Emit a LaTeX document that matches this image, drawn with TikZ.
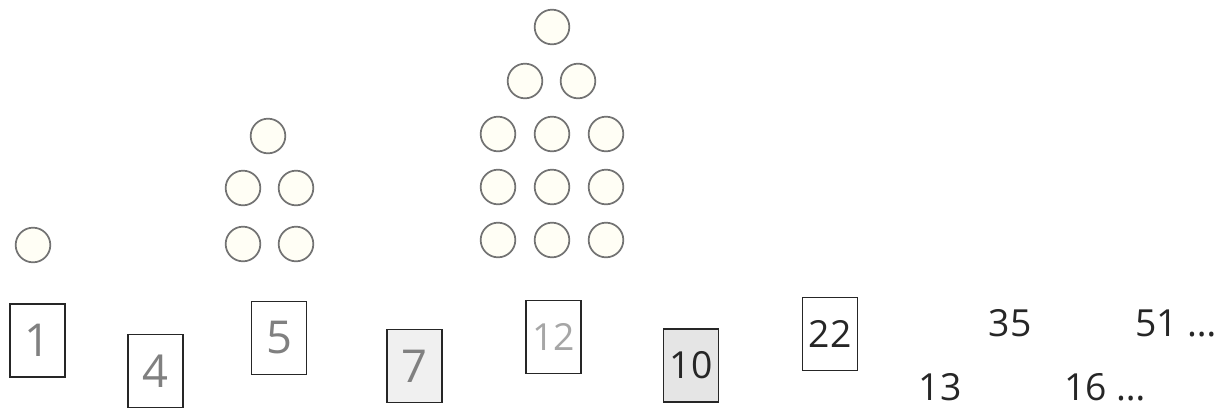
\documentclass[tikz,border=0pt]{standalone}
\usepackage{fontspec}
\setmainfont{Open Sans}
\usepackage{tikz}
\usetikzlibrary{positioning}

\begin{document}
\begin{tikzpicture}[
		x=0.75pt, y=-0.75pt,
		card/.style={draw=black!85, line width=1.1pt, fill=white, minimum width=41pt, minimum height=55pt, inner sep=0pt},
		hand/.style={text=black!50, font=\fontsize{34}{34}\selectfont},
		print/.style={text=black!85, font=\fontsize{28}{28}\selectfont},
		dot/.style={circle, draw=black!55, line width=1.3pt, fill=yellow!4, minimum size=26pt, inner sep=0pt}
		]
		\useasboundingbox (0,0) rectangle (1217,411);
		
		% Dot figures
		\node[dot] (d1) at (33,245) {};
		
		\node[dot] (e1) at (268,136) {};
		\foreach \r/\y in {2/188, 3/244} {
			\node[dot] (e\r a) at (243,\y) {};
			\node[dot] (e\r b) at (296,\y) {};
		}
		
		\node[dot] (f1) at (552,27) {};
		\node[dot] (f2a) at (525,81) {};
		\node[dot] (f2b) at (578,81) {};
		\foreach \r/\y in {3/134, 4/187, 5/240} {
			\node[dot] (f\r a) at (498,\y) {};
			\node[dot] (f\r b) at (552,\y) {};
			\node[dot] (f\r c) at (606,\y) {};
		}
		
		% Number cards
		\node[card, hand] (c1) at (37.5,340.5) {1};
		\node[card, hand] (c4) at (155.5,371) {4};
		\node[card, hand] (c5) at (279,338) {5};
		\node[card, hand, fill=black!6] (c7) at (414.5,366) {7};
		\node[card, hand, font=\fontsize{28}{28}\selectfont, text=black!35] (c12) at (553.5,337) {12};
		\node[card, print, fill=black!10] (c10) at (691,365.5) {10};
		\node[card, print] (c22) at (830,334) {22};
		
		% Continuation without cards
		\node[print] (n35) at (1010,323) {35};
		\node[print] (n51) at (1176,323) {51 …};
		\node[print] (n13) at (940,387) {13};
		\node[print] (n16) at (1105,387) {16 …};
	\end{tikzpicture}
\end{document}
